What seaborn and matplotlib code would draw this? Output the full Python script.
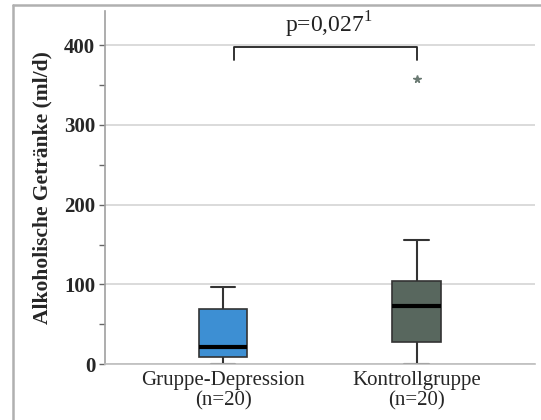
import numpy as np
import pandas as pd
import seaborn as sns
import matplotlib
matplotlib.use("Agg")
import matplotlib.pyplot as plt
from matplotlib.lines import Line2D

# ---- data ----
categories = ["Gruppe-Depression\n(n=20)", "Kontrollgruppe\n(n=20)"]
depression_values = [0, 0, 3, 6, 9, 9, 12, 15, 18, 20,
                     24, 30, 40, 55, 68, 72, 80, 88, 92, 97]
control_values = [0, 5, 12, 20, 28, 28, 40, 52, 62, 70,
                  76, 82, 90, 98, 103, 107, 120, 140, 156, 358]
box_colors = ["#3d8fd3", "#58675e"]
y_ticks = [0, 100, 200, 300, 400]
p_text = "p=0,027$^{1}$"

df = pd.DataFrame({
    "Gruppe": [categories[0]] * len(depression_values) + [categories[1]] * len(control_values),
    "Wert": depression_values + control_values,
})

sns.set_theme(style="white")
plt.rcParams["font.family"] = ["Liberation Serif", "DejaVu Serif"]
plt.rcParams["mathtext.fontset"] = "custom"
plt.rcParams["mathtext.rm"] = "Liberation Serif"

fig = plt.figure(figsize=(5.41, 4.20), dpi=100)
ax = fig.add_axes([0.194, 0.133, 0.795, 0.841])

sns.boxplot(
    data=df, x="Gruppe", y="Wert", hue="Gruppe", order=categories,
    hue_order=categories, palette=box_colors, width=0.25, dodge=False,
    legend=False, ax=ax, saturation=1,
    linewidth=1.2, linecolor="#333333",
    medianprops=dict(color="black", linewidth=3),
    whiskerprops=dict(color="#333333", linewidth=1.5),
    capprops=dict(color="#333333", linewidth=1.5),
    flierprops=dict(marker="*", markersize=5.5, markerfacecolor="#6b7a73",
                    markeredgecolor="#6b7a73"),
)

ax.set_xlim(-0.61, 1.612)
ax.set_ylim(0, 443)
ax.set_yticks(y_ticks)
ax.set_yticks([50, 150, 250, 350], minor=True)
ax.yaxis.grid(True, color="#d4d4d4", linewidth=1.2)
ax.set_axisbelow(True)
for s in ["top", "right"]:
    ax.spines[s].set_visible(False)
ax.spines["left"].set_color("#a0a0a0")
ax.spines["left"].set_linewidth(1.2)
ax.spines["bottom"].set_color("#bdbdbd")
ax.spines["bottom"].set_linewidth(1.2)

ax.tick_params(axis="y", which="both", direction="out", length=4, width=1,
               color="#666666", left=True, pad=3)
ax.tick_params(axis="x", length=0, pad=5)
for lab in ax.get_yticklabels():
    lab.set_fontsize(15)
    lab.set_fontweight("bold")
for lab in ax.get_xticklabels():
    lab.set_fontsize(15)
    lab.set_linespacing(1.1)

ax.set_xlabel("")
ax.set_ylabel("Alkoholische Getränke (ml/d)", fontsize=15.5, fontweight="bold", labelpad=8)

# significance bracket
xl, xr, ytop, yleg = 0.057, 1.0, 398, 382
ax.plot([xl, xl, xr, xr], [yleg, ytop, ytop, yleg], color="#222222", linewidth=1.3,
        clip_on=False)
ax.text((xl + xr) / 2 + 0.02, 406, p_text, ha="center", va="bottom", fontsize=17,
        color="#222222")

# gray frame of the figure
fig.add_artist(Line2D([13 / 541, 13 / 541], [0, 1 - 5 / 420], transform=fig.transFigure,
                      color="#b0b0b0", linewidth=1.8))
fig.add_artist(Line2D([13 / 541, 1], [1 - 5 / 420, 1 - 5 / 420], transform=fig.transFigure,
                      color="#b0b0b0", linewidth=1.8))

fig.savefig("out.png", dpi=100)
